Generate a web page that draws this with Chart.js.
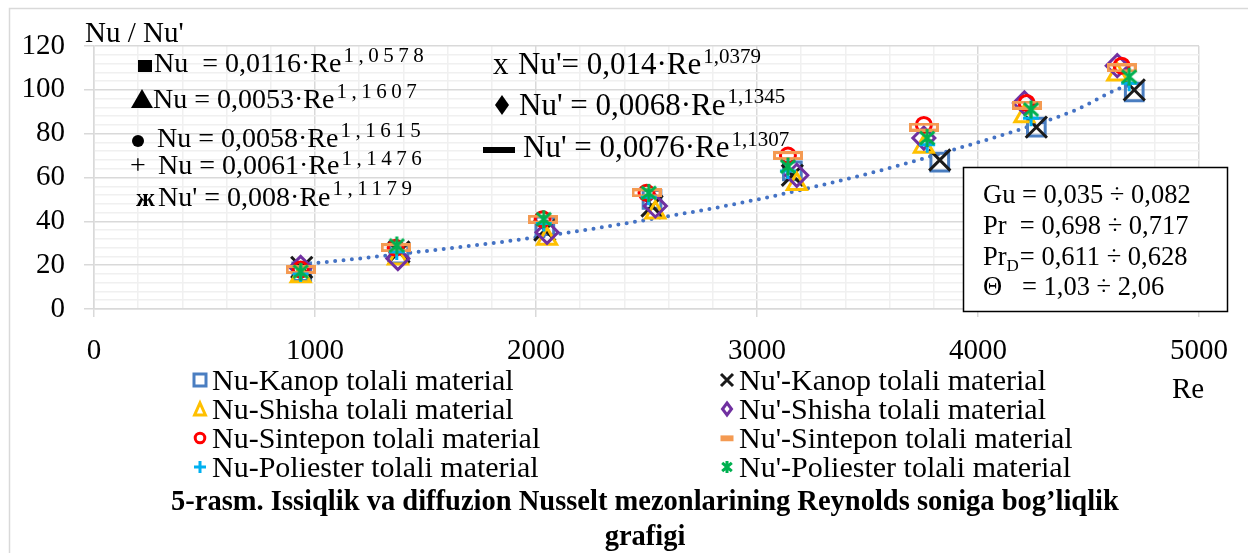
<!DOCTYPE html>
<html>
<head>
<meta charset="utf-8">
<script src="https://cdn.jsdelivr.net/npm/chart.js@4.4.1/dist/chart.umd.min.js"></script>
<style>
  html, body { margin: 0; padding: 0; background: #fff; }
  canvas { display: block; }
</style>
</head>
<body>
<canvas id="nusseltChart" width="1248" height="553"></canvas>
<script>
// Re values of each material (Nu and Nu' were measured at the same points)
var reKanop = [940, 1380, 2040, 2525, 3160, 3827, 4264, 4707];
var reShisha = [935, 1375, 2050, 2540, 3180, 3755, 4210, 4630];
var reSintepon = [935, 1365, 2030, 2500, 3140, 3755, 4220, 4650];
var rePoliester = [935, 1370, 2035, 2510, 3140, 3770, 4240, 4684];

// Nu and Nu' values
var nuKanop = [17, 25, 38, 50, 63, 67, 83, 99];
var nuPrKanop = [19, 26, 36, 47, 61, 68, 83, 100];
var nuShisha = [15, 23, 32, 44, 57, 74, 88, 107];
var nuPrShisha = [19, 23, 35, 47, 61, 78, 94, 111];
var nuSintepon = [18, 28, 41, 53, 70, 84, 94, 111];
var nuPrSintepon = [18, 28, 41, 53, 70, 83, 93, 110];
var nuPoliester = [16, 26, 39, 51, 63, 75, 87, 103];
var nuPrPoliester = [17, 29, 41, 53, 65, 78, 91, 106];

// dotted trend line (read as points)
var trendRe = [940, 1000, 1420, 2000, 2460, 2960, 3540, 3845, 4145, 4445, 4625, 4707];
var trendNu = [20.3, 20.9, 25.5, 32.7, 40.0, 49.1, 62.7, 71.4, 80.5, 90.9, 100, 103];

var seriesNames = [
    'Nu-Kanop tolali material',
    "Nu'-Kanop tolali material",
    'Nu-Shisha tolali material',
    "Nu'-Shisha tolali material",
    'Nu-Sintepon tolali material',
    "Nu'-Sintepon tolali material",
    'Nu-Poliester tolali material',
    "Nu'-Poliester tolali material"
];

var xTicks = [0, 1000, 2000, 3000, 4000, 5000];
var yTicks = [0, 20, 40, 60, 80, 100, 120];

var seriesX = [reKanop, reKanop, reShisha, reShisha, reSintepon, reSintepon, rePoliester, rePoliester];
var seriesY = [nuKanop, nuPrKanop, nuShisha, nuPrShisha, nuSintepon, nuPrSintepon, nuPoliester, nuPrPoliester];
var seriesColors = ['#4a7ec1', '#1a1a1a', '#ffc000', '#7030a0', '#ff0000', '#f49a52', '#00b0f0', '#00b050'];
var markerKinds = ['square', 'x', 'triangle', 'diamond', 'circle', 'dash', 'plus', 'star'];

var serif = "'Liberation Serif', 'Times New Roman', serif";

function dashImage(w, h, lw, color) {
    var c = document.createElement('canvas');
    c.width = w; c.height = h;
    var g = c.getContext('2d');
    g.strokeStyle = color;
    g.lineWidth = lw;
    g.strokeRect(lw / 2, lw / 2, w - lw, h - lw);
    return c;
}

function starImage(size, lw, color) {
    var c = document.createElement('canvas');
    c.width = size; c.height = size;
    var g = c.getContext('2d');
    drawMarker(g, 'star', size / 2, size / 2, size - 2, color, lw);
    return c;
}

// marker shapes used by the legend (and the star image)
function drawMarker(g, kind, x, y, s, color, lw) {
    var h = s / 2;
    g.save();
    g.strokeStyle = color;
    g.fillStyle = color;
    g.lineWidth = lw;
    g.beginPath();
    if (kind === 'square') {
        g.rect(x - h, y - h, s, s);
        g.stroke();
    } else if (kind === 'x') {
        g.moveTo(x - h, y - h); g.lineTo(x + h, y + h);
        g.moveTo(x + h, y - h); g.lineTo(x - h, y + h);
        g.stroke();
    } else if (kind === 'triangle') {
        g.moveTo(x, y - h); g.lineTo(x + h * 0.9, y + h); g.lineTo(x - h * 0.9, y + h);
        g.closePath();
        g.stroke();
    } else if (kind === 'diamond') {
        g.moveTo(x, y - h); g.lineTo(x + h * 0.75, y); g.lineTo(x, y + h); g.lineTo(x - h * 0.75, y);
        g.closePath();
        g.stroke();
    } else if (kind === 'circle') {
        g.arc(x, y, h * 0.8, 0, Math.PI * 2);
        g.stroke();
    } else if (kind === 'dash') {
        g.fillRect(x - h, y - h * 0.4, s, s * 0.45);
    } else if (kind === 'plus') {
        g.moveTo(x, y - h); g.lineTo(x, y + h);
        g.moveTo(x - h, y); g.lineTo(x + h, y);
        g.stroke();
    } else if (kind === 'star') {
        g.moveTo(x, y - h); g.lineTo(x, y + h);
        g.moveTo(x - h * 0.8, y - h * 0.7); g.lineTo(x + h * 0.8, y + h * 0.7);
        g.moveTo(x + h * 0.8, y - h * 0.7); g.lineTo(x - h * 0.8, y + h * 0.7);
        g.stroke();
    }
    g.restore();
}

var pointStyles = ['rect', 'crossRot', 'triangle', 'rectRot', 'circle',
    dashImage(30, 9, 3, seriesColors[5]), 'cross', starImage(20, 3, seriesColors[7])];
var pointRadii = [12.5, 15, 11, 11, 7.5, 12, 8, 10];

var datasets = seriesNames.map((name, index) => {
    return {
        label: name,
        data: seriesX[index].map((re, i) => ({ x: re, y: seriesY[index][i] })),
        pointStyle: pointStyles[index],
        pointRadius: pointRadii[index],
        pointHoverRadius: pointRadii[index],
        pointBorderColor: seriesColors[index],
        pointBackgroundColor: 'rgba(0,0,0,0)',
        pointBorderWidth: 3,
        showLine: false,
        order: seriesNames.length - index
    };
});

datasets.push({
    type: 'line',
    label: 'trend',
    data: trendRe.map((re, i) => ({ x: re, y: trendNu[i] })),
    borderColor: '#4472c4',
    borderWidth: 4,
    borderDash: [0, 8.4],
    borderCapStyle: 'round',
    pointRadius: 0,
    cubicInterpolationMode: 'monotone',
    fill: false,
    order: 20
});

function text(g, str, x, y, size, opts) {
    opts = opts || {};
    g.font = (opts.bold ? 'bold ' : '') + size + 'px ' + serif;
    g.textAlign = opts.align || 'left';
    g.textBaseline = 'alphabetic';
    g.fillStyle = '#000';
    g.letterSpacing = (opts.spacing || 0) + 'px';
    g.fillText(str, x, y);
    var w = g.measureText(str).width;
    g.letterSpacing = '0px';
    return w;
}

function equation(g, x, y, base, sup, size, supSize, supRise, spacing) {
    var w = text(g, base, x, y, size);
    text(g, sup, x + w + 2, y - supRise, supSize, { spacing: spacing });
}

var overlay = {
    id: 'overlay',
    beforeDraw: function (chart) {
        var g = chart.ctx;
        g.save();
        g.fillStyle = '#fff';
        g.fillRect(0, 0, chart.width, chart.height);
        g.restore();
    },
    afterDraw: function (chart) {
        var g = chart.ctx;
        g.save();

        // outer chart frame
        g.strokeStyle = '#d9d9d9';
        g.lineWidth = 1.5;
        g.strokeRect(9.5, 8.5, 1400, 700);

        // axis titles
        text(g, "Nu / Nu'", 85, 42, 29);
        text(g, 'Re', 1172, 398, 29);

        // left column of equations
        g.fillStyle = '#000';
        g.fillRect(138, 60, 14, 12);
        equation(g, 154, 72, 'Nu  = 0,0116\u00b7Re', '1,0578', 28, 21, 10, 4.5);
        g.beginPath();
        g.moveTo(131, 108); g.lineTo(153, 108); g.lineTo(142, 89); g.closePath();
        g.fill();
        equation(g, 153, 108, 'Nu = 0,0053\u00b7Re', '1,1607', 28, 21, 10, 4.5);
        g.beginPath();
        g.arc(138, 141, 6, 0, Math.PI * 2);
        g.fill();
        equation(g, 157, 147, 'Nu = 0,0058\u00b7Re', '1,1615', 28, 21, 10, 4.5);
        text(g, '+', 130, 174, 28);
        equation(g, 158, 174, 'Nu = 0,0061\u00b7Re', '1,1476', 28, 21, 9, 4.5);
        text(g, '\u0436', 136, 206, 26, { bold: true });
        equation(g, 158, 206, "Nu' = 0,008\u00b7Re", '1,1179', 28, 21, 11, 4.5);

        // middle column of equations
        text(g, 'x', 493, 74, 31);
        equation(g, 518, 74, "Nu'= 0,014\u00b7Re", '1,0379', 31, 21, 11, 0);
        g.fillStyle = '#000';
        g.beginPath();
        g.moveTo(502, 95); g.lineTo(509, 105); g.lineTo(502, 115); g.lineTo(495, 105); g.closePath();
        g.fill();
        equation(g, 519, 115, "Nu' = 0,0068\u00b7Re", '1,1345', 31, 21, 12, 0);
        g.fillStyle = '#000';
        g.fillRect(483, 147, 32, 6);
        equation(g, 523, 157, "Nu' = 0,0076\u00b7Re", '1,1307', 31, 21, 11, 0);

        // parameter box
        g.fillStyle = '#fff';
        g.fillRect(963, 167, 265, 145);
        g.strokeStyle = '#000';
        g.lineWidth = 1.5;
        g.strokeRect(963.5, 167.5, 264, 144);
        text(g, 'Gu = 0,035 \u00f7 0,082', 983, 203, 26.5);
        text(g, 'Pr  = 0,698 \u00f7 0,717', 983, 234, 26.5);
        var pw = text(g, 'Pr', 983, 265, 26.5);
        var dw = text(g, 'D', 983 + pw, 271, 17);
        text(g, '= 0,611 \u00f7 0,628', 983 + pw + dw + 1, 265, 26.5);
        text(g, '\u0398   = 1,03 \u00f7 2,06', 983, 295, 26.5);

        // legend, two columns
        var legendX = [200, 727];
        var legendY = [380, 409, 438, 467];
        seriesNames.forEach((name, index) => {
            var col = index % 2;
            var row = Math.floor(index / 2);
            var mx = legendX[col];
            var my = legendY[row];
            var size = markerKinds[index] === 'dash' ? 13 : 12;
            drawMarker(g, markerKinds[index], mx, my, size, seriesColors[index], 3);
            text(g, name, mx + 12, my + 10, 30);
        });

        // caption
        text(g, '5-rasm. Issiqlik va diffuzion Nusselt mezonlarining Reynolds soniga bog\u2019liqlik', 645, 510, 28.5, { bold: true, align: 'center' });
        text(g, 'grafigi', 645, 545, 28.5, { bold: true, align: 'center' });

        g.restore();
    }
};

var ctx = document.getElementById('nusseltChart').getContext('2d');
var nusseltChart = new Chart(ctx, {
    type: 'scatter',
    data: {
        datasets: datasets
    },
    options: {
        responsive: false,
        animation: false,
        layout: {
            padding: { left: 0, top: 46, right: 49, bottom: 0 }
        },
        plugins: {
            legend: { display: false },
            tooltip: { enabled: false }
        },
        scales: {
            x: {
                type: 'linear',
                min: xTicks[0],
                max: xTicks[xTicks.length - 1],
                afterFit: function (scale) { scale.height = 244; },
                grid: {
                    color: c => (c.tick && c.tick.value % 1000 === 0) ? '#d9d9d9' : '#f0f0f0',
                    lineWidth: 1.5,
                    tickLength: 8,
                    tickColor: c => (c.tick && c.tick.value % 1000 === 0) ? '#d9d9d9' : 'rgba(0,0,0,0)'
                },
                border: { color: '#d9d9d9', width: 1.5 },
                ticks: {
                    stepSize: 200,
                    autoSkip: false,
                    maxRotation: 0,
                    minRotation: 0,
                    padding: 17,
                    color: '#000',
                    font: { family: serif, size: 29 },
                    callback: value => xTicks.indexOf(value) >= 0 ? value : ''
                }
            },
            y: {
                min: yTicks[0],
                max: yTicks[yTicks.length - 1],
                afterFit: function (scale) { scale.width = 94; },
                grid: {
                    color: c => (c.tick && c.tick.value % 20 === 0) ? '#d9d9d9' : '#f0f0f0',
                    lineWidth: 1.5,
                    tickLength: 10,
                    tickColor: c => (c.tick && c.tick.value % 20 === 0) ? '#d9d9d9' : 'rgba(0,0,0,0)'
                },
                border: { color: '#d9d9d9', width: 1.5 },
                ticks: {
                    stepSize: 4,
                    autoSkip: false,
                    padding: 19,
                    color: '#000',
                    font: { family: serif, size: 29 },
                    callback: value => yTicks.indexOf(value) >= 0 ? value : ''
                }
            }
        }
    },
    plugins: [overlay]
});
</script>
</body>
</html>
